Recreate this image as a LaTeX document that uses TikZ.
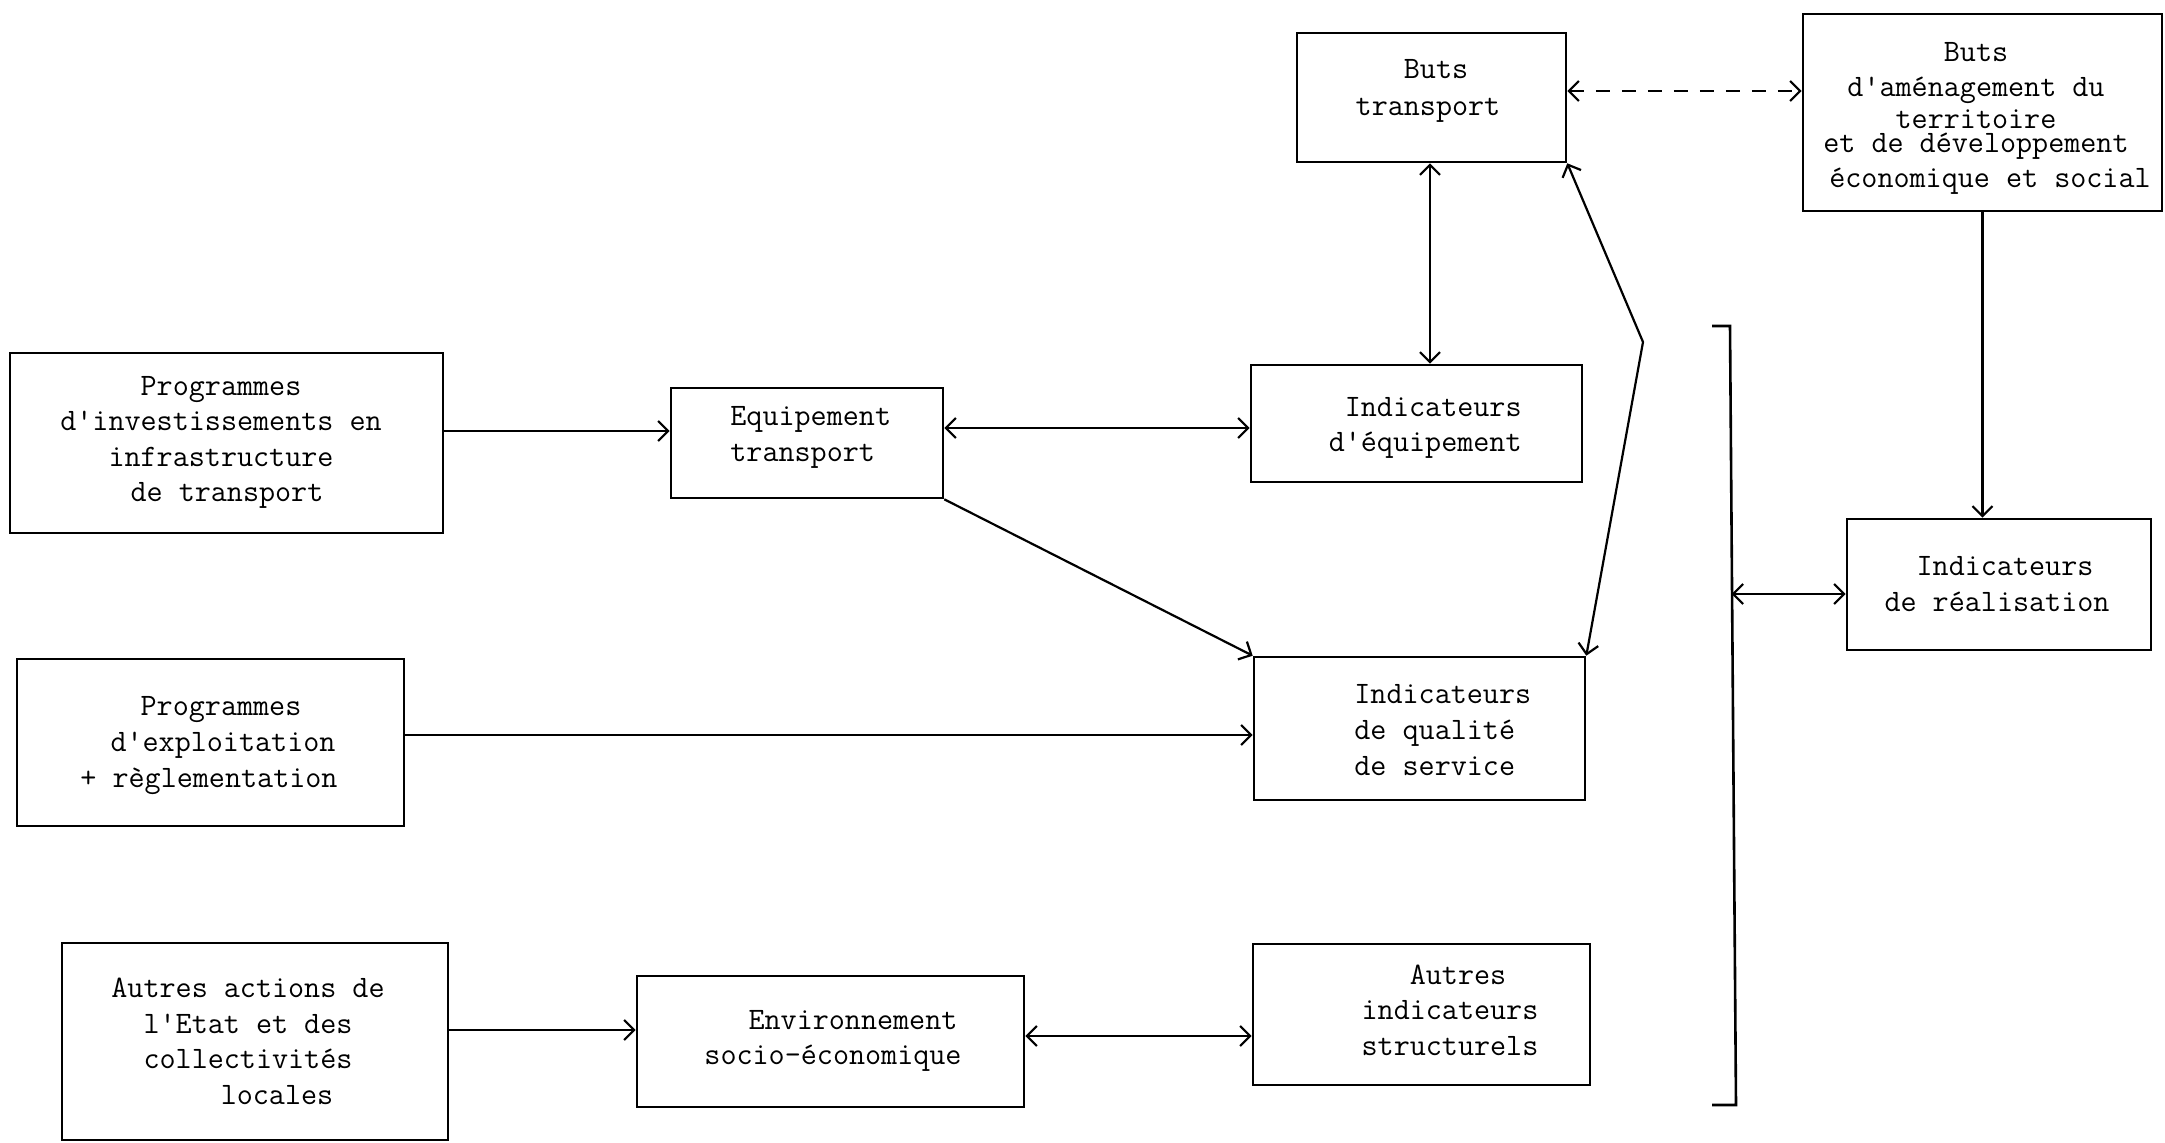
\documentclass[tikz,border=0pt]{standalone}
\usepackage{fontspec}
\usetikzlibrary{arrows.meta}
\begin{document}
\begin{tikzpicture}[x=0.5pt,y=-0.5pt,
  box/.style={draw,line width=1.3pt,inner sep=0pt},
  txt/.style={font=\ttfamily\fontsize{15.6}{17.8}\selectfont,align=center,inner sep=0pt},
  barb/.tip={Straight Barb[length=5pt,width=10pt]},
  arr/.style={line width=1.1pt,-barb},
  darr/.style={line width=1.1pt,barb-barb},
  dashconn/.style={darr,dash pattern=on 7pt off 6pt}]
\fill[white] (0,0) rectangle (2165,1142);
% boxes
\node[box,minimum width=216.5pt,minimum height=90pt] (prinv) at (226.5,443) {};
\node[box,minimum width=136pt,minimum height=55pt] (equip) at (807,443) {};
\node[box,minimum width=165.5pt,minimum height=58.5pt] (indeq) at (1416.5,423.5) {};
\node[box,minimum width=134.5pt,minimum height=64.5pt] (butstr) at (1431.5,97.5) {};
\node[box,minimum width=179.5pt,minimum height=98.5pt] (butam) at (1982.5,112.5) {};
\node[box,minimum width=152pt,minimum height=65.5pt] (indreal) at (1999,584.5) {};
\node[box,minimum width=193.5pt,minimum height=83.5pt] (prexp) at (210.5,742.5) {};
\node[box,minimum width=165.5pt,minimum height=71.5pt] (indqual) at (1419.5,728.5) {};
\node[box,minimum width=193pt,minimum height=98.5pt] (autact) at (255,1041.5) {};
\node[box,minimum width=193.5pt,minimum height=65.5pt] (env) at (830.5,1041.5) {};
\node[box,minimum width=168.5pt,minimum height=70.5pt] (autind) at (1421.5,1014.5) {};
% texts
\node[txt] (tprinv) at (221,442.5) {Programmes\\ d'investissements en\\ infrastructure\\ \hspace*{6pt}de transport};
\node[txt,align=left,anchor=west] (tequip) at (730,437.5) {Equipement\\ transport};
\node[txt,align=right,anchor=east] (tindeq) at (1522,428) {Indicateurs\\ d'équipement};
\node[txt,font=\ttfamily\fontsize{15.6}{18.2}\selectfont] (tbutstr) at (1428,91) {\hspace*{8pt}Buts\\ transport};
\node[txt] (tbutam) at (1976,118.5) {Buts\\ d'aménagement du\\[-2pt] territoire\\[-6pt] et de développement\\ \hspace*{14pt}économique et social};
\node[txt] (tindreal) at (1997,584) {\hspace*{8pt}Indicateurs\\ de réalisation};
\node[txt] (tprexp) at (215,745.5) {\hspace*{6pt}Programmes\\ \hspace*{8pt}d'exploitation\\ + règlementation\hspace*{6pt}};
\node[txt,align=left,anchor=west] (tindqual) at (1354,730) {Indicateurs\\ de qualité\\ de service};
\node[txt] (tautact) at (248,1041.5) {Autres actions de\\ l'Etat et des\\ collectivités\\ \hspace*{29pt}locales};
\node[txt] (tenv) at (833,1041) {\hspace*{20pt}Environnement\\ socio-économique};
\node[txt] (tautind) at (1450,1010) {\hspace*{8pt}Autres\\ indicateurs\\ structurels};
% connectors
\draw[arr] ([yshift=6pt]prinv.east) -- ([yshift=6pt]equip.west);
\coordinate (p2) at ([yshift=7.5pt]equip.east);
\draw[darr] (p2) -- (p2 -| indeq.west);
\draw[arr] (equip.south east) -- (indqual.north west);
\coordinate (p4) at ([yshift=3.75pt]prexp.east);
\draw[arr] (p4) -- (p4 -| indqual.west);
\coordinate (p5) at ([yshift=5.75pt]autact.east);
\draw[arr] (p5) -- (p5 -| env.west);
\coordinate (p6) at ([yshift=2.75pt]env.east);
\draw[darr] (p6) -- (p6 -| autind.west);
\coordinate (p7) at ([xshift=-0.75pt]butstr.south);
\draw[darr] (p7) -- (p7 |- indeq.north);
\coordinate (knee) at (1643,342);
\draw[darr] (butstr.south east) -- (knee) -- (indqual.north east);
\coordinate (p9) at ([yshift=3.25pt]butstr.east);
\draw[dashconn] (p9) -- (p9 -| butam.west);
\draw[arr] (butam.south) -- (butam.south |- indreal.north);
% bracket
\coordinate (bra1) at (1712,326);
\coordinate (bra2) at (1730,326);
\coordinate (bra3) at (1736,1105);
\coordinate (bra4) at (1712,1105);
\draw[line width=1.3pt] (bra1) -- (bra2) -- (bra3) -- (bra4);
\coordinate (bmid) at (1731.5,594);
\draw[darr] (bmid) -- (bmid -| indreal.west);
\end{tikzpicture}
\end{document}
